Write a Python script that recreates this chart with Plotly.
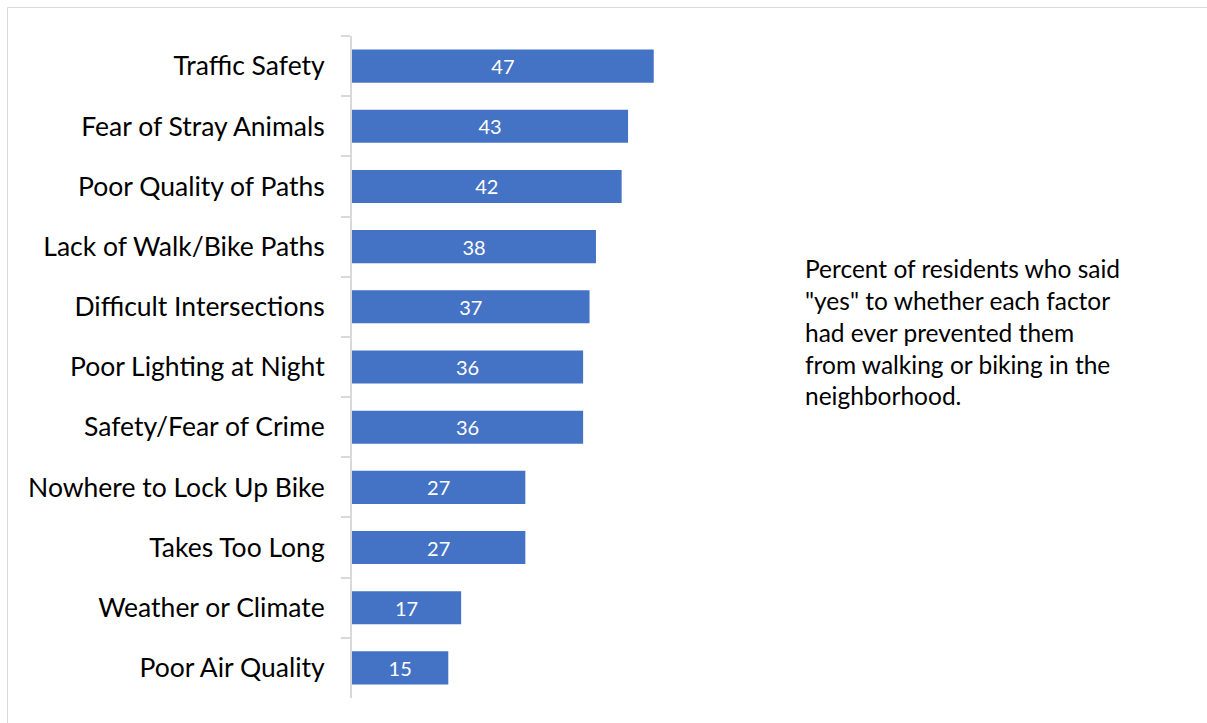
import plotly.graph_objects as go

# Barriers to walking/biking, listed top to bottom
factors = [
    "Traffic Safety",
    "Fear of Stray Animals",
    "Poor Quality of Paths",
    "Lack of Walk/Bike Paths",
    "Difficult Intersections",
    "Poor Lighting at Night",
    "Safety/Fear of Crime",
    "Nowhere to Lock Up Bike",
    "Takes Too Long",
    "Weather or Climate",
    "Poor Air Quality",
]
percent_yes = [47, 43, 42, 38, 37, 36, 36, 27, 27, 17, 15]

note = ('Percent of residents who said<br>"yes" to whether each factor<br>'
        'had ever prevented them<br>from walking or biking in the<br>neighborhood.')

W, H = 1207, 723
left, right, top, bottom = 352, 406, 36, 25
pw, ph = W - left - right, H - top - bottom

def px_x(p):
    return (p - left) / pw

def px_y(p):
    return (H - bottom - p) / ph

fig = go.Figure(
    go.Bar(
        x=percent_yes,
        y=factors,
        orientation="h",
        marker=dict(color="#4472C4", line=dict(width=0)),
        text=[str(v) for v in percent_yes],
        textposition="inside",
        insidetextanchor="middle",
        textfont=dict(color="white", size=20, family="Lato"),
        width=0.55,
        hoverinfo="skip",
    )
)

fig.update_layout(
    width=W,
    height=H,
    margin=dict(l=left, r=right, t=top, b=bottom),
    paper_bgcolor="white",
    plot_bgcolor="white",
    showlegend=False,
    font=dict(family="Lato", color="black"),
    uniformtext=dict(minsize=20, mode="show"),
    xaxis=dict(
        range=[0, pw / 6.42],
        visible=False,
        fixedrange=True,
    ),
    yaxis=dict(
        autorange="reversed",
        showline=True,
        linecolor="#d9d9d9",
        linewidth=2,
        ticks="outside",
        tickson="boundaries",
        ticklen=9,
        tickwidth=2,
        tickcolor="#d9d9d9",
        tickfont=dict(size=26.5, family="Lato", color="black"),
        ticklabelstandoff=20,
        showgrid=False,
        zeroline=False,
    ),
    annotations=[
        dict(
            text=note,
            xref="paper",
            yref="paper",
            x=px_x(803),
            y=px_y(252),
            xanchor="left",
            yanchor="top",
            align="left",
            showarrow=False,
            font=dict(size=24.5, family="Lato", color="black"),
        )
    ],
    shapes=[
        dict(
            type="rect",
            xref="paper",
            yref="paper",
            x0=px_x(7.5),
            x1=px_x(1230),
            y0=px_y(740),
            y1=px_y(7.5),
            line=dict(color="#d9d9d9", width=1),
            fillcolor="rgba(0,0,0,0)",
            layer="below",
        )
    ],
)

fig.write_html("out.html")
